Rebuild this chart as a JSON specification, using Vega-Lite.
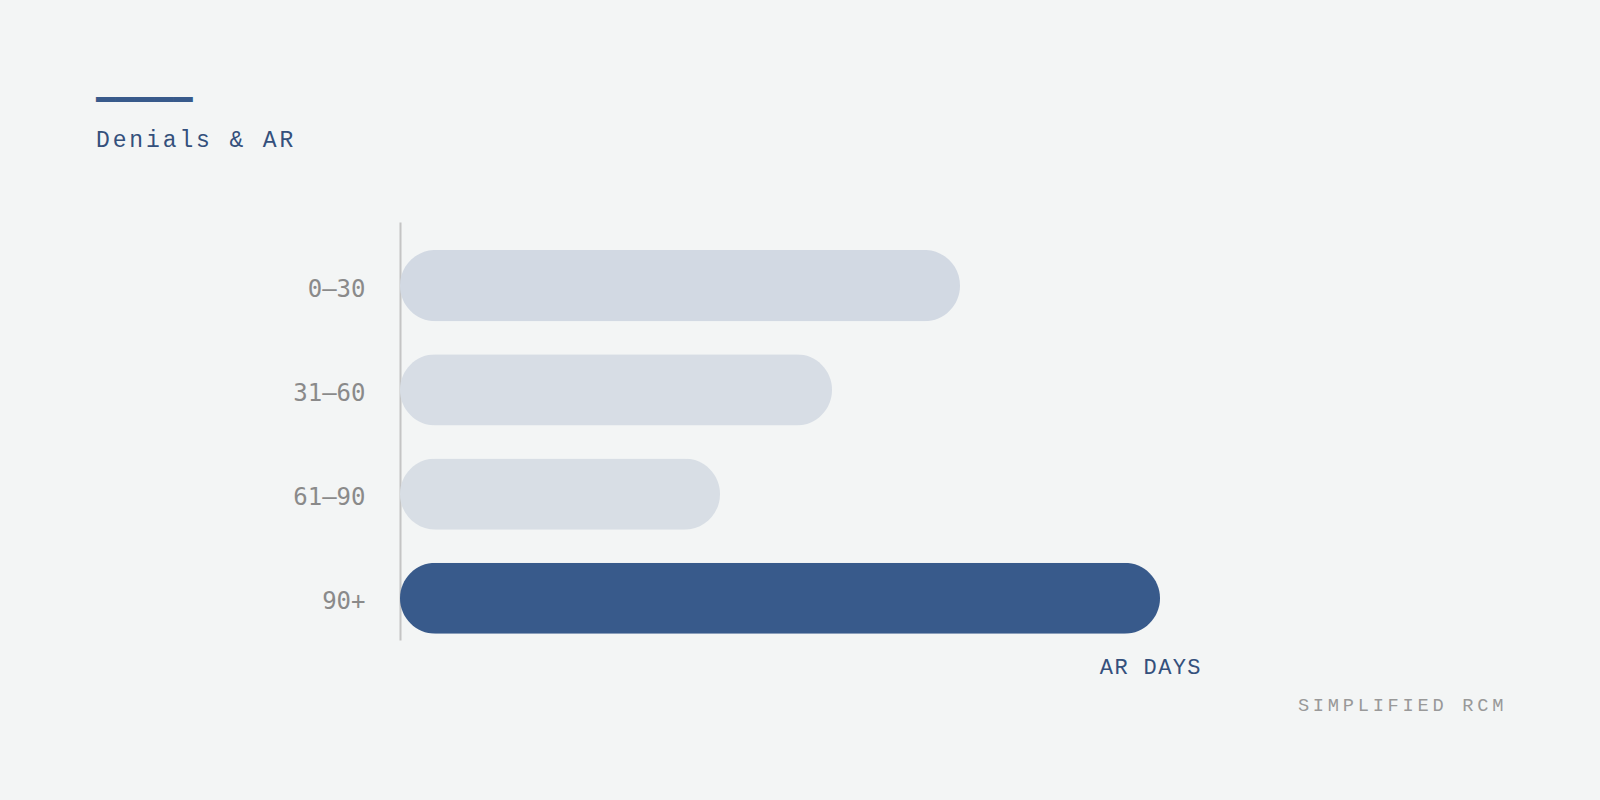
{
  "$schema": "https://vega.github.io/schema/vega-lite/v6.json",
  "width": 800,
  "height": 418,
  "autosize": {"type": "none"},
  "padding": {"left": 400, "top": 222, "right": 400, "bottom": 160},
  "background": "#f3f5f5",
  "title": {
    "text": "▁▁▁▁▁",
    "subtitle": "D\u200a\u200ae\u200a\u200an\u200a\u200ai\u200a\u200aa\u200a\u200al\u200a\u200as\u200a\u200a \u200a\u200a&\u200a\u200a \u200a\u200aA\u200a\u200aR",
    "anchor": "start",
    "frame": "group",
    "dx": -304,
    "offset": 69,
    "font": "DejaVu Sans Mono",
    "fontSize": 32,
    "fontWeight": "normal",
    "color": "#385a8b",
    "subtitleFont": "Liberation Mono, DejaVu Sans",
    "subtitleFontSize": 23,
    "subtitleColor": "#34507c",
    "subtitlePadding": 28
  },
  "data": {
    "values": [
      {"bucket": "0–30", "ar_share": 70},
      {"bucket": "31–60", "ar_share": 54},
      {"bucket": "61–90", "ar_share": 40},
      {"bucket": "90+", "ar_share": 95}
    ]
  },
  "mark": {"type": "bar", "cornerRadius": 35.5},
  "encoding": {
    "y": {
      "field": "bucket",
      "type": "nominal",
      "sort": null,
      "scale": {"paddingInner": 0.317, "paddingOuter": 0.1635, "align": 0.82},
      "axis": {
        "domainColor": "#c4c4c4",
        "domainWidth": 2,
        "ticks": false,
        "grid": false,
        "labelFont": "DejaVu Sans Mono",
        "labelFontSize": 24,
        "labelColor": "#8a8a8a",
        "labelPadding": 35,
        "labelOffset": 4,
        "title": "S\u2009I\u2009M\u2009P\u2009L\u2009I\u2009F\u2009I\u2009E\u2009D\u2009 \u2009R\u2009C\u2009M",
        "titleAngle": 0,
        "titleX": 1103,
        "titleY": 482,
        "titleAlign": "right",
        "titleBaseline": "middle",
        "titleFont": "Liberation Mono, DejaVu Sans",
        "titleFontSize": 18.7,
        "titleFontWeight": "normal",
        "titleColor": "#999999"
      }
    },
    "x": {
      "field": "ar_share",
      "type": "quantitative",
      "scale": {"domain": [0, 100], "nice": false},
      "axis": {
        "domain": false,
        "ticks": false,
        "labels": false,
        "grid": false,
        "title": "A\u200aR\u200a \u200aD\u200aA\u200aY\u200aS",
        "titleAnchor": "end",
        "titlePadding": 16,
        "titleFont": "Liberation Mono, DejaVu Sans",
        "titleFontSize": 22,
        "titleFontWeight": "normal",
        "titleColor": "#34507c"
      }
    },
    "color": {
      "field": "bucket",
      "type": "nominal",
      "scale": {
        "domain": ["0–30", "31–60", "61–90", "90+"],
        "range": ["#d2d9e3", "#d7dde5", "#d8dee5", "#385a8b"]
      },
      "legend": null
    }
  },
  "config": {"view": {"stroke": null}}
}
